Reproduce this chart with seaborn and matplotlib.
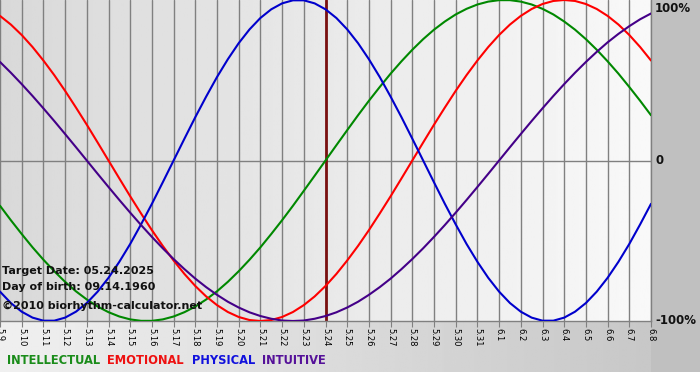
import numpy as np
import pandas as pd
import matplotlib
matplotlib.use("Agg")
import matplotlib.pyplot as plt
from matplotlib.patches import Rectangle
import seaborn as sns

# ---- data (every half day from 5.9 to 6.8) ----
dates = ["5.9", "5.10", "5.11", "5.12", "5.13", "5.14", "5.15", "5.16", "5.17", "5.18",
         "5.19", "5.20", "5.21", "5.22", "5.23", "5.24", "5.25", "5.26", "5.27", "5.28",
         "5.29", "5.30", "5.31", "6.1", "6.2", "6.3", "6.4", "6.5", "6.6", "6.7", "6.8"]
target_label = "5.24"
samples_per_day = 2

intellectual = [-0.282, -0.372, -0.458, -0.541, -0.618, -0.690, -0.756, -0.815, -0.866, -0.910,
                -0.945, -0.972, -0.990, -0.999, -0.999, -0.990, -0.972, -0.945, -0.910, -0.866,
                -0.815, -0.756, -0.690, -0.618, -0.541, -0.458, -0.372, -0.282, -0.189, -0.095,
                0.000,
                0.095, 0.189, 0.282, 0.372, 0.458, 0.541, 0.618, 0.690, 0.756, 0.815,
                0.866, 0.910, 0.945, 0.972, 0.990, 0.999, 0.999, 0.990, 0.972, 0.945,
                0.910, 0.866, 0.815, 0.756, 0.690, 0.618, 0.541, 0.458, 0.372, 0.282]
emotional = [0.901, 0.847, 0.782, 0.707, 0.623, 0.532, 0.434, 0.330, 0.223, 0.112,
             0.000, -0.112, -0.223, -0.330, -0.434, -0.532, -0.623, -0.707, -0.782, -0.847,
             -0.901, -0.944, -0.975, -0.994, -1.000, -0.994, -0.975, -0.944, -0.901, -0.847,
             -0.782,
             -0.707, -0.623, -0.532, -0.434, -0.330, -0.223, -0.112, 0.000, 0.112, 0.223,
             0.330, 0.434, 0.532, 0.623, 0.707, 0.782, 0.847, 0.901, 0.944, 0.975,
             0.994, 1.000, 0.994, 0.975, 0.944, 0.901, 0.847, 0.782, 0.707, 0.623]
physical = [-0.817, -0.888, -0.942, -0.979, -0.998, -0.998, -0.979, -0.942, -0.888, -0.817,
            -0.731, -0.631, -0.520, -0.398, -0.270, -0.136, 0.000, 0.136, 0.270, 0.398,
            0.520, 0.631, 0.731, 0.817, 0.888, 0.942, 0.979, 0.998, 0.998, 0.979,
            0.942,
            0.888, 0.817, 0.731, 0.631, 0.520, 0.398, 0.270, 0.136, 0.000, -0.136,
            -0.270, -0.398, -0.520, -0.631, -0.731, -0.817, -0.888, -0.942, -0.979, -0.998,
            -0.998, -0.979, -0.942, -0.888, -0.817, -0.731, -0.631, -0.520, -0.398, -0.270]
intuitive = [0.614, 0.547, 0.476, 0.402, 0.325, 0.246, 0.165, 0.083, 0.000, -0.083,
             -0.165, -0.246, -0.325, -0.402, -0.476, -0.547, -0.614, -0.677, -0.736, -0.789,
             -0.837, -0.880, -0.916, -0.946, -0.969, -0.986, -0.997, -1.000, -0.997, -0.986,
             -0.969,
             -0.946, -0.916, -0.880, -0.837, -0.789, -0.736, -0.677, -0.614, -0.547, -0.476,
             -0.402, -0.325, -0.246, -0.165, -0.083, 0.000, 0.083, 0.165, 0.246, 0.325,
             0.402, 0.476, 0.547, 0.614, 0.677, 0.736, 0.789, 0.837, 0.880, 0.916]

series_names = ["INTELLECTUAL", "EMOTIONAL", "PHYSICAL", "INTUITIVE"]
series_values = [intellectual, emotional, physical, intuitive]
line_colors = {"INTELLECTUAL": "#008800", "EMOTIONAL": "#ff0000",
               "PHYSICAL": "#0000cc", "INTUITIVE": "#440088"}
text_colors = {"INTELLECTUAL": "#1a8c1a", "EMOTIONAL": "#ee1111",
               "PHYSICAL": "#1111dd", "INTUITIVE": "#551199"}
y_tick_labels = ["100%", "0", "-100%"]
info_lines = ["Target Date: 05.24.2025", "Day of birth: 09.14.1960",
              "\u00a92010 biorhythm-calculator.net"]

df = pd.concat([pd.DataFrame({"day": np.arange(len(v)) / samples_per_day,
                              "value": v, "series": n})
                for n, v in zip(series_names, series_values)], ignore_index=True)

# ---- figure ----
sns.set_style("white")
plt.rcParams["font.family"] = ["DejaVu Sans"]
W, H = 700, 380
fig = plt.figure(figsize=(W / 100, H / 100), dpi=100)

def px(x, y):
    return x / W, 1 - y / H

# background (pixel coordinates)
bg = fig.add_axes([0, 0, 1, 1], zorder=0)
bg.set_axis_off()
PL, PR, PT, PB = 0, 651, 0, 321
grad = np.linspace(0.85, 0.975, 256)[None, :]
bg.imshow(grad, cmap="gray", vmin=0, vmax=1, extent=[PL, PR, PB, PT], aspect="auto")
bg.add_patch(Rectangle((PR, 0), W - PR, 372, color="#c0c0c0", lw=0))
grad2 = np.linspace(0.94, 0.77, 256)[None, :]
bg.imshow(grad2, cmap="gray", vmin=0, vmax=1, extent=[0, W, 372, PB], aspect="auto")
bg.add_patch(Rectangle((0, 372), W, H - 372, color="white", lw=0))
bg.set_xlim(0, W)
bg.set_ylim(H, 0)

ax = fig.add_axes([PL / W, 1 - PB / H, (PR - PL) / W, (PB - PT) / H], zorder=1)
ax.set_facecolor("none")

ax.set_xticks(np.arange(len(dates)))
ax.set_xticklabels(dates, rotation=270, fontsize=6, color="black")
ax.grid(axis="x", color="#808080", lw=1, zorder=0)
ax.axhline(0, color="#808080", lw=1, zorder=0.5)
ax.axvline(dates.index(target_label), color="#7a1010", lw=2, zorder=1.5)

sns.lineplot(data=df, x="day", y="value", hue="series", palette=line_colors,
             hue_order=series_names, ax=ax, legend=False, linewidth=1.5, zorder=3)

ax.set_xlim(0, len(dates) - 1)
ax.set_ylim(-1.0, 1.0)
ax.set_yticks([])
ax.set_xlabel("")
ax.set_ylabel("")
for s in ["top", "left"]:
    ax.spines[s].set_visible(False)
for s in ["bottom", "right"]:
    ax.spines[s].set_color("#808080")
    ax.spines[s].set_linewidth(1)
ax.tick_params(axis="x", length=4, color="#808080", pad=1, bottom=True)

# right labels
for lab, y in zip(y_tick_labels, [8, 161, 321]):
    fig.text(*px(655, y), lab, fontsize=8.5, fontweight="bold", va="center", ha="left",
             color="#111111", zorder=5)

# info text
for t, y in zip(info_lines, [271, 287, 306]):
    fig.text(*px(2, y), t, fontsize=8, fontweight="bold", va="center", ha="left",
             color="#111111", zorder=5)

# legend text
xs = [7, 107, 192, 262]
for n, x in zip(series_names, xs):
    fig.text(*px(x, 361), n, fontsize=8.3, fontweight="bold", va="center", ha="left",
             color=text_colors[n], zorder=5)

fig.savefig("out.png", dpi=100)
